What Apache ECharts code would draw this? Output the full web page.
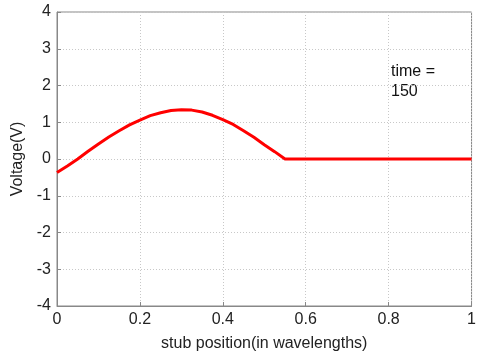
<!DOCTYPE html>
<html lang="en">
<head>
    <meta charset="UTF-8">
    <title>Stub voltage</title>
    <script src="https://cdn.jsdelivr.net/npm/echarts@6/dist/echarts.min.js"></script>
    <style>
        html, body { margin: 0; padding: 0; background: #fff; }
        #chart { width: 479px; height: 360px; }
    </style>
</head>
<body>
    <div id="chart"></div>
    <script>
        // values
        const positions = [0, 0.025, 0.05, 0.075, 0.1, 0.125, 0.15, 0.175, 0.2, 0.225, 0.25, 0.275, 0.3,
            0.325, 0.35, 0.375, 0.4, 0.425, 0.45, 0.475, 0.5, 0.525, 0.55, 0.6, 0.7, 0.8, 0.9, 1];
        const voltages = [-0.37, -0.19, 0.0, 0.21, 0.41, 0.6, 0.77, 0.93, 1.06, 1.18, 1.26, 1.32, 1.34,
            1.33, 1.28, 1.19, 1.07, 0.94, 0.77, 0.59, 0.39, 0.2, 0, 0, 0, 0, 0, 0];
        const xTicks = { min: 0, max: 1, step: 0.2 };
        const yTicks = { min: -4, max: 4, step: 1 };

        const font = 'Liberation Sans, Arial, sans-serif';
        const chart = echarts.init(document.getElementById('chart'));

        const axisCommon = {
            axisLine: { show: true, onZero: false, lineStyle: { color: '#888', width: 1 } },
            axisTick: { show: true, inside: true, length: 4, lineStyle: { color: '#888' } },
            splitLine: { show: true, lineStyle: { color: '#c8c8c8', type: [1, 2], width: 1 } },
            axisLabel: { color: '#222', fontSize: 16, fontFamily: font },
            nameTextStyle: { color: '#222', fontSize: 16, fontFamily: font }
        };

        chart.setOption({
            animation: false,
            grid: {
                left: 57, right: 6, top: 12, bottom: 54,
                show: true, borderColor: '#888', borderWidth: 1
            },
            xAxis: Object.assign({}, axisCommon, {
                type: 'value',
                min: xTicks.min, max: xTicks.max, interval: xTicks.step,
                name: 'stub position(in wavelengths)',
                nameLocation: 'middle',
                nameGap: 30,
                axisLabel: Object.assign({}, axisCommon.axisLabel, { margin: 6 })
            }),
            yAxis: Object.assign({}, axisCommon, {
                type: 'value',
                min: yTicks.min, max: yTicks.max, interval: yTicks.step,
                name: 'Voltage(V)',
                nameLocation: 'middle',
                nameGap: 29,
                axisLabel: Object.assign({}, axisCommon.axisLabel, { margin: 6 })
            }),
            series: [{
                type: 'line',
                data: positions.map((p, i) => [p, voltages[i]]),
                symbol: 'none',
                lineStyle: { color: '#ff0000', width: 3 }
            }],
            graphic: [{
                type: 'text',
                left: 391,
                top: 62,
                style: {
                    text: 'time =\n150',
                    font: '16px ' + font,
                    fill: '#111',
                    lineHeight: 20
                }
            }]
        });

        window.addEventListener('resize', () => chart.resize());
    </script>
</body>
</html>
